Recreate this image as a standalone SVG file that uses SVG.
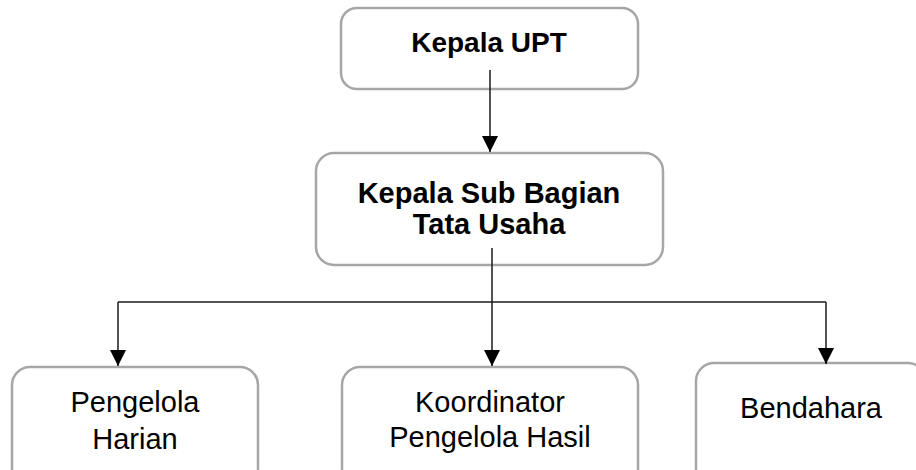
<svg xmlns="http://www.w3.org/2000/svg" width="916" height="470" viewBox="0 0 916 470">
<defs>
<style>
.box{fill:#ffffff;stroke:#a6a6a6;stroke-width:2.5}
.b{font-family:"Liberation Sans",Arial,sans-serif;font-weight:bold;fill:#000;text-anchor:middle}
.r{font-family:"Liberation Sans",Arial,sans-serif;fill:#000;text-anchor:middle;font-size:29px}
.ln{fill:none;stroke:#1a1a1a;stroke-width:1.5}
</style>
<marker id="ah" viewBox="0 0 16 16" markerWidth="16" markerHeight="16" refX="16" refY="8" orient="auto" markerUnits="userSpaceOnUse">
<path d="M0,0 L16,8 L0,16 Z" fill="#000"/>
</marker>
</defs>
<rect width="916" height="470" fill="#fff"/>
<g id="node-kepala-upt">
<rect class="box" x="341" y="8" width="297" height="81" rx="16"/>
<text class="b" x="489" y="52" font-size="28">Kepala UPT</text>
</g>
<g id="node-kasubag">
<rect class="box" x="316" y="153" width="347" height="112" rx="18"/>
<text class="b" x="489" y="203" font-size="29">Kepala Sub Bagian</text>
<text class="b" x="489" y="234" font-size="29">Tata Usaha</text>
</g>
<g id="node-pengelola-harian">
<rect class="box" x="12" y="367" width="246" height="120" rx="18"/>
<text class="r" x="135" y="412">Pengelola</text>
<text class="r" x="135" y="449">Harian</text>
</g>
<g id="node-koordinator">
<rect class="box" x="342" y="367" width="296" height="120" rx="18"/>
<text class="r" x="490" y="412">Koordinator</text>
<text class="r" x="490" y="447">Pengelola Hasil</text>
</g>
<g id="node-bendahara">
<rect class="box" x="696" y="363" width="230" height="124" rx="18"/>
<text class="r" x="811" y="418">Bendahara</text>
</g>
<g id="connectors">
<path class="ln" d="M490,70 V152" marker-end="url(#ah)"/>
<path class="ln" d="M492,248 V366" marker-end="url(#ah)"/>
<path class="ln" d="M118,302 H826"/>
<path class="ln" d="M118,302 V366" marker-end="url(#ah)"/>
<path class="ln" d="M826,302 V364" marker-end="url(#ah)"/>
</g>
</svg>
